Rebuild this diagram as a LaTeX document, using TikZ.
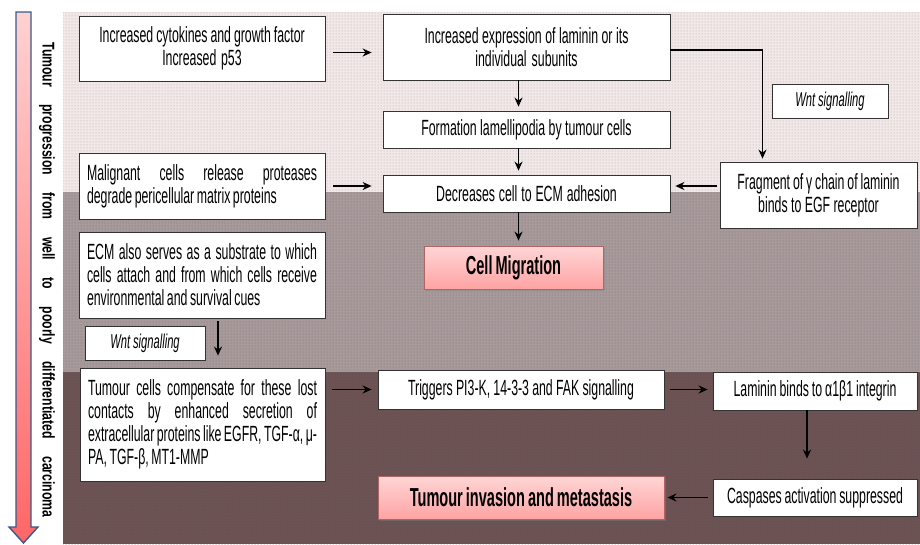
\documentclass[tikz,border=0pt]{standalone}
\usepackage{fontspec}
\setmainfont[FakeStretch=0.56,WordSpace=0.75]{Liberation Sans}
\newfontfamily\sidefont[FakeStretch=0.72]{Liberation Sans}
\usetikzlibrary{arrows.meta,patterns,shadows}
\definecolor{bandtop}{HTML}{F3E8E8}
\definecolor{bandmid}{HTML}{A89A9B}
\definecolor{bandlow}{HTML}{6C5153}
\definecolor{pinkbox}{HTML}{FFA3A3}
\definecolor{pinkedge}{HTML}{B06464}
\definecolor{arrowblue}{HTML}{3A5A8C}
\hyphenpenalty=10000

\begin{document}
\begin{tikzpicture}[x=1pt,y=-1pt,
    wbox/.style={draw=black!80, fill=white, line width=0.8pt, inner xsep=8pt, inner ysep=2pt,
      align=center, font=\fontsize{22}{23}\selectfont,
      execute at begin node={\spaceskip=\fontdimen2\font plus \fontdimen3\font minus \fontdimen4\font\relax},
      drop shadow={shadow xshift=1pt, shadow yshift=-1pt, opacity=0.35}},
    pbox/.style={draw=pinkedge, line width=0.8pt, top color=pinkbox!45, bottom color=pinkbox,
      font=\bfseries\fontsize{26}{28}\selectfont,
      drop shadow={shadow xshift=1.5pt, shadow yshift=-1.5pt, opacity=0.4}},
    wnt/.style={wbox, font=\itshape\fontsize{20}{22}\selectfont},
    link/.style={line width=1.8pt, -{Stealth[length=9pt,width=8pt]}}]
    \useasboundingbox (0,0) rectangle (920,544);
    \fill[bandtop] (63,12) rectangle (920,192);
    \fill[bandmid] (63,192) rectangle (920,372);
    \fill[bandlow] (63,372) rectangle (920,544);
    \fill[pattern=dots, pattern color=black!35] (63,12) rectangle (920,192);
    \fill[pattern=dots, pattern color=black!55] (63,192) rectangle (920,372);
    \fill[pattern=dots, pattern color=black!60] (63,372) rectangle (920,544);
    \draw[arrowblue, line width=1.4pt, top color=red!18, bottom color=red!60]
      (16,12) -- (31,12) -- (31,527) -- (38,527) -- (23.5,543) -- (9,527) -- (16,527) -- cycle;
    \node[rotate=-90, font=\sidefont\bfseries\fontsize{17}{19}\selectfont] (side) at (47,280)
      {\makebox[475pt][s]{Tumour progression from well to poorly differentiated carcinoma}};

    \node[wbox, text width=230, minimum height=65] (cyto) at (202,48.5) {Increased cytokines and growth factor\\Increased p53};
    \node[wbox, text width=271, minimum height=66] (expr) at (526.5,47) {Increased expression of laminin or its\\individual subunits};
    \node[wbox, text width=271, minimum height=37] (lamel) at (526.5,129.5) {Formation lamellipodia by tumour cells};
    \node[wbox, text width=230, minimum height=66, align=justify] (prot) at (202,186) {Malignant cells release proteases\linebreak degrade pericellular matrix proteins};
    \node[wbox, text width=271, minimum height=37] (adh) at (526.5,193.5) {Decreases cell to ECM adhesion};
    \node[wbox, text width=181, minimum height=66] (frag) at (818.5,195) {Fragment of γ chain of laminin\\binds to EGF receptor};
    \node[wnt, text width=100, minimum height=34] (wntA) at (830,101) {Wnt signalling};
    \node[pbox, minimum width=179, minimum height=43] (migr) at (513.5,267.5) {Cell Migration};
    \node[wbox, text width=230, minimum height=86, align=justify] (ecm) at (202,275) {ECM also serves as a substrate to which\linebreak cells attach and from which cells receive\linebreak environmental and survival cues};
    \node[wnt, text width=104, minimum height=34] (wntB) at (145,343) {Wnt signalling};
    \node[wbox, text width=229, minimum height=113, align=justify] (comp) at (202.5,424.5) {Tumour cells compensate for these lost\linebreak contacts by enhanced secretion of\linebreak extracellular proteins like EGFR, TGF-α, μ-\linebreak PA, TGF-β, MT1-MMP};
    \node[wbox, text width=270, minimum height=39] (trig) at (521,389.5) {Triggers PI3-K, 14-3-3 and FAK signalling};
    \node[wbox, text width=188, minimum height=38] (lamb) at (815,391) {Laminin binds to α1β1 integrin};
    \node[wbox, text width=188, minimum height=37] (casp) at (815,497.5) {Caspases activation suppressed};
    \node[pbox, minimum width=286, minimum height=43] (inv) at (521,497.5) {Tumour invasion and metastasis};

    \draw[link, shorten <=8pt, shorten >=11pt] ([yshift=-4pt]cyto.east) -- ([yshift=-4pt]cyto.east -| expr.west);
    \draw[link, shorten >=4pt] ([xshift=-8pt]expr.south) -- ([xshift=-8pt]lamel.north);
    \draw[link, shorten >=4pt] ([xshift=-8pt]lamel.south) -- ([xshift=-8pt]adh.north);
    \draw[link, shorten >=5pt] ([xshift=-8pt]adh.south) -- ([xshift=-8pt]adh.south |- migr.north);
    \draw[link, shorten >=3pt] ([yshift=-3pt]expr.east) -| ([xshift=-56pt]frag.north);
    \draw[link, shorten <=8pt, shorten >=11pt] (prot.east) -- (prot.east -| adh.west);
    \draw[link, shorten <=3pt, shorten >=5pt] ([yshift=9pt]frag.west) -- ([yshift=9pt]frag.west -| adh.east);
    \draw[link, shorten <=3pt, shorten >=12pt] ([xshift=16pt]ecm.south) -- ([xshift=16pt]ecm.south |- comp.north);
    \draw[link, shorten <=7pt, shorten >=6pt] (comp.east |- trig) -- (trig.west);
    \draw[link, shorten <=6pt, shorten >=5pt] (trig.east) -- (trig.east -| lamb.west);
    \draw[link, shorten >=20pt] ([xshift=-8pt]lamb.south) -- ([xshift=-8pt]casp.north);
    \draw[link, shorten <=5pt, shorten >=3pt] (casp.west) -- (inv.east);
\end{tikzpicture}
\end{document}
